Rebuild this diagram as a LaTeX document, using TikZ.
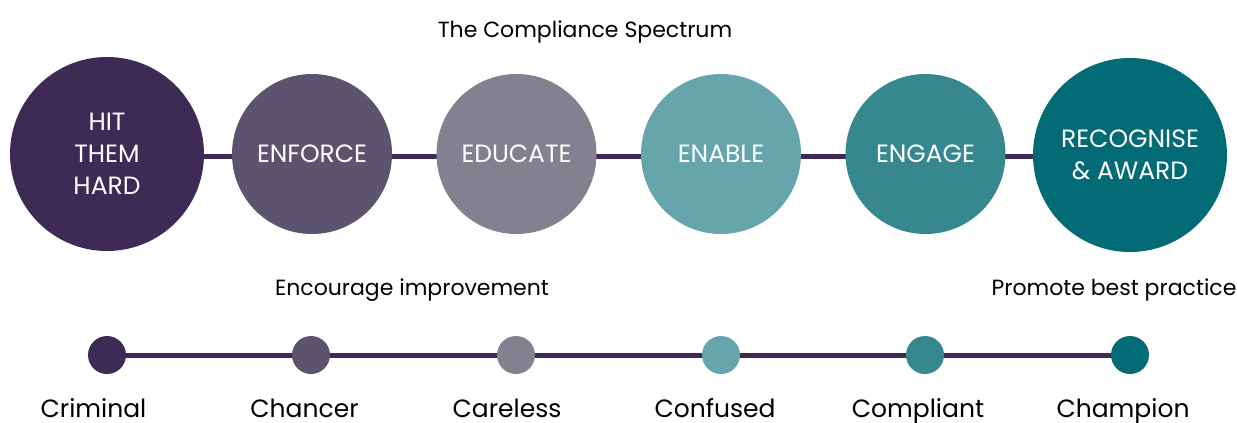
\documentclass[tikz,border=0pt]{standalone}
\usepackage{fontspec}
\setmainfont{Poppins}
\usetikzlibrary{backgrounds}
\definecolor{cA}{HTML}{3D2B56}
\definecolor{cB}{HTML}{5C536E}
\definecolor{cC}{HTML}{83808F}
\definecolor{cD}{HTML}{67A5AD}
\definecolor{cE}{HTML}{37878E}
\definecolor{cF}{HTML}{026B75}
\begin{document}
\begin{tikzpicture}[x=1pt,y=-1pt,
  bigc/.style={circle, fill=#1, minimum size=194pt, inner sep=0pt, text=white, align=center, font=\fontsize{25}{32}\selectfont},
  midc/.style={circle, fill=#1, minimum size=160pt, inner sep=0pt, text=white, align=center, font=\fontsize{25}{32}\selectfont},
  dotc/.style={circle, fill=#1, minimum size=38pt, inner sep=0pt},
  lab/.style={font=\fontsize{25}{30}\selectfont, text=black, inner sep=0pt, anchor=base},
  note/.style={font=\fontsize{22}{26}\selectfont, text=black, inner sep=0pt, anchor=base},
  link/.style={line width=5pt, draw=cA}]
\useasboundingbox (0,0) rectangle (1237,423);
\node[note] (title) at (585,37) {The Compliance Spectrum};
\node[bigc=cA] (hit) at (107,154) {HIT\\THEM\\HARD};
\node[midc=cB] (enf) at (312,154) {ENFORCE};
\node[midc=cC] (edu) at (516.5,154) {EDUCATE};
\node[midc=cD] (ena) at (721,154) {ENABLE};
\node[midc=cE] (eng) at (925.5,154) {ENGAGE};
\node[bigc=cF] (rec) at (1130,155) {RECOGNISE\\\& AWARD};
\begin{scope}[on background layer]
\draw[link] (hit.center) ++(0,2) -- (1130,156);
\end{scope}
\node[note] (enc) at (412,295) {Encourage improvement};
\node[note] (pro) at (1114,295) {Promote best practice};
\node[dotc=cA] (d1) at (107,355) {};
\node[dotc=cB] (d2) at (311,355) {};
\node[dotc=cC] (d3) at (516,355) {};
\node[dotc=cD] (d4) at (721,355) {};
\node[dotc=cE] (d5) at (925,355) {};
\node[dotc=cF] (d6) at (1130,355) {};
\begin{scope}[on background layer]
\draw[link] (d1.center) -- (d6.center);
\end{scope}
\node[lab] (l1) at (93.5,417) {Criminal};
\node[lab] (l2) at (304.5,417) {Chancer};
\node[lab] (l3) at (507,417) {Careless};
\node[lab] (l4) at (715,417) {Confused};
\node[lab] (l5) at (918,417) {Compliant};
\node[lab] (l6) at (1123,417) {Champion};
\end{tikzpicture}
\end{document}
